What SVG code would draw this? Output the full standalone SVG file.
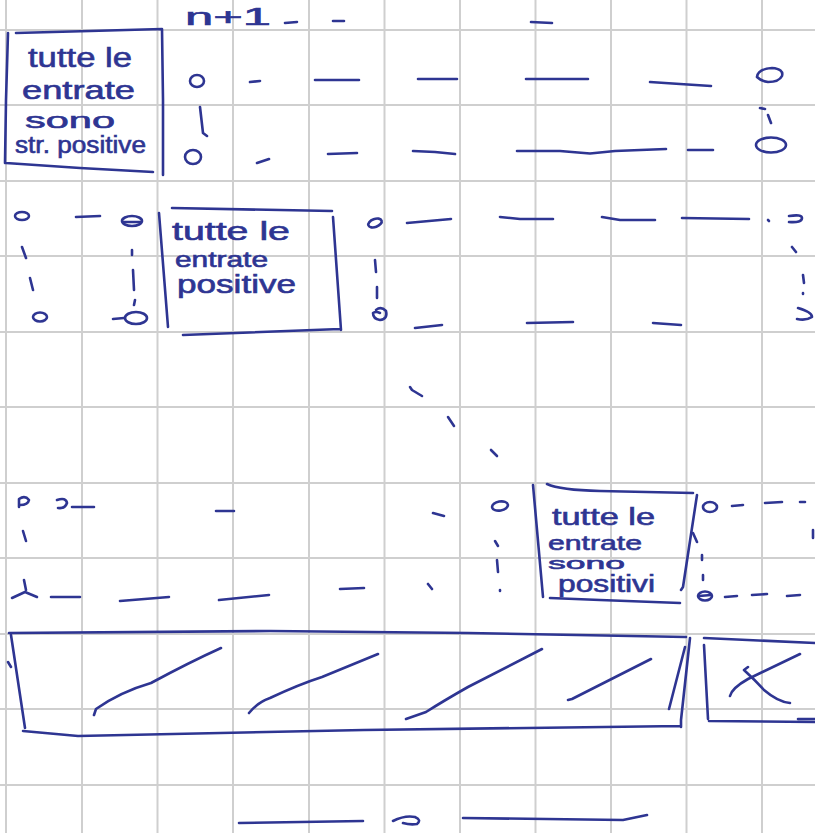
<svg xmlns="http://www.w3.org/2000/svg" width="815" height="833" viewBox="0 0 815 833">
<defs>
<style>
.grid line{stroke:#cfcfcf;stroke-width:2}
.ink{fill:none;stroke:#2e3592;stroke-width:2.6;stroke-linecap:round;stroke-linejoin:round}
.txt{font-family:"Liberation Sans","DejaVu Sans",sans-serif;fill:#2e3592;font-weight:normal;stroke:#2e3592;stroke-width:0.6}
</style>
</defs>
<rect width="815" height="833" fill="#ffffff"/>
<g class="grid" id="grid">
<line x1="6" y1="0" x2="6" y2="833"/><line x1="82" y1="0" x2="82" y2="833"/><line x1="157.5" y1="0" x2="157.5" y2="833"/><line x1="233" y1="0" x2="233" y2="833"/><line x1="309" y1="0" x2="309" y2="833"/><line x1="384.5" y1="0" x2="384.5" y2="833"/><line x1="460" y1="0" x2="460" y2="833"/><line x1="535.5" y1="0" x2="535.5" y2="833"/><line x1="611" y1="0" x2="611" y2="833"/><line x1="686.5" y1="0" x2="686.5" y2="833"/><line x1="762" y1="0" x2="762" y2="833"/>
<line x1="0" y1="30" x2="815" y2="30"/><line x1="0" y1="105" x2="815" y2="105"/><line x1="0" y1="181" x2="815" y2="181"/><line x1="0" y1="256" x2="815" y2="256"/><line x1="0" y1="332" x2="815" y2="332"/><line x1="0" y1="407" x2="815" y2="407"/><line x1="0" y1="483" x2="815" y2="483"/><line x1="0" y1="558" x2="815" y2="558"/><line x1="0" y1="634" x2="815" y2="634"/><line x1="0" y1="709" x2="815" y2="709"/><line x1="0" y1="785" x2="815" y2="785"/>
</g>

<g id="label-n1">
<text class="txt" x="185" y="25" font-size="24" textLength="86" lengthAdjust="spacingAndGlyphs">n+1</text>
</g>

<g id="box1">
<path class="ink" d="M16,33 L90,31 L162,29 M162,29 L163,100 L163,175 M8,33 L6,100 L5,163 M6,163 L80,168 L153,172"/>
<text class="txt" x="28" y="67" font-size="27" textLength="104" lengthAdjust="spacingAndGlyphs">tutte le</text>
<text class="txt" x="22" y="99" font-size="25" textLength="113" lengthAdjust="spacingAndGlyphs">entrate</text>
<text class="txt" x="25" y="128" font-size="22" textLength="90" lengthAdjust="spacingAndGlyphs">sono</text>
<text class="txt" x="15" y="153" font-size="23" textLength="131" lengthAdjust="spacingAndGlyphs">str. positive</text>
</g>

<g id="box2">
<path class="ink" d="M159,213 L168,327 M172,208 L332,211 M333,217 L341,330 M183,335 L340,329"/>
<text class="txt" x="172" y="240" font-size="25" textLength="118" lengthAdjust="spacingAndGlyphs">tutte le</text>
<text class="txt" x="175" y="267" font-size="22" textLength="93" lengthAdjust="spacingAndGlyphs">entrate</text>
<text class="txt" x="177" y="293" font-size="25" textLength="119" lengthAdjust="spacingAndGlyphs">positive</text>
</g>

<g id="box3">
<path class="ink" d="M547,484 Q560,490 600,491 L693,493 M533,485 L543,597 M697,495 L683,587 L681,590 M550,598 L600,600 L680,603"/>
<text class="txt" x="552" y="525" font-size="23" textLength="103" lengthAdjust="spacingAndGlyphs">tutte le</text>
<text class="txt" x="548" y="550" font-size="21" textLength="94" lengthAdjust="spacingAndGlyphs">entrate</text>
<text class="txt" x="548" y="569" font-size="17" textLength="77" lengthAdjust="spacingAndGlyphs">sono</text>
<text class="txt" x="558" y="592" font-size="23" textLength="97" lengthAdjust="spacingAndGlyphs">positivi</text>
</g>

<g id="bar">
<path class="ink" d="M9,633 L270,631 L468,633 L686,637 M11,635 L25,728 M8,662 L11,667 M23,731 L78,736 L364,730 L681,726 M690,638 L681,720 L681,727 M685,647 L669,709"/>
<path class="ink" d="M94,715 L96,709 Q120,692 151,683 Q190,662 221,648 M249,713 Q258,702 270,698 Q300,684 322,677 L378,654 M406,719 L426,712 Q445,700 468,687 L542,649 M568,700 L572,699 L651,659"/>
</g>

<g id="xbox">
<path class="ink" d="M704,638 L815,643 M704,645 L708,719 M709,721 L815,722 M798,719 L815,719"/>
<path class="ink" d="M800,654 L748,679 Q732,688 730,696 M748,667 L744,670 Q755,680 764,690 Q778,702 790,703"/>
</g>

<g id="connectors">
<path class="ink" d="M285,23 L297,22 M333,21 L344,21 M531,22 L552,23"/>
<ellipse class="ink" cx="197" cy="81" rx="7" ry="6"/>
<path class="ink" d="M250,82 L260,81 M315,80 L359,80 M418,79 L457,79 M526,79 L588,79 M650,82 L680,84 L711,86"/>
<path class="ink" d="M757,77 Q758,69 772,68 Q784,69 782,76 Q779,82 768,82 Q761,81 757,77"/>
<path class="ink" d="M200,107 L203,133 L207,136 M760,108 L765,109 M768,115 L771,123"/>
<ellipse class="ink" cx="193" cy="157" rx="8" ry="7"/>
<path class="ink" d="M257,163 L269,159 M328,154 L357,153 M413,151 L435,152 L455,154 M517,151 L560,151 L590,153.5 L615,151 L666,149 M688,150 L713,150"/>
<ellipse class="ink" cx="771" cy="145" rx="15" ry="7.5"/>
<ellipse class="ink" cx="22" cy="216" rx="7" ry="4"/>
<path class="ink" d="M76,217 L100,216"/>
<ellipse class="ink" cx="132" cy="221" rx="10" ry="5"/>
<path class="ink" d="M124,222 L140,222"/>
<path class="ink" d="M22,247 L26,258 M30,278 L33,290 M132,250 L132,255 M133,270 L134,290 M135,300 L134,305"/>
<ellipse class="ink" cx="40" cy="317" rx="7" ry="4.5"/>
<path class="ink" d="M113,319 L124,318"/>
<ellipse class="ink" cx="136" cy="318" rx="11" ry="6"/>
<ellipse class="ink" cx="375" cy="223" rx="7" ry="4" transform="rotate(-20 375 223)"/>
<path class="ink" d="M407,223 L451,219 M500,217 L520,219 L553,219 M602,217 L620,220 L655,220 M682,218 L749,219"/>
<path class="ink" d="M768,220 L769,221 M789,216 Q802,214 802,218 Q802,223 789,222"/>
<path class="ink" d="M792,247 L796,252 M803,275 L804,283 M803,293 L803,294"/>
<path class="ink" d="M375,260 L376,272 M377,287 L377,298"/>
<path class="ink" d="M376,310 Q381,306 386,311 Q388,319 380,320 Q373,319 373,313 Q376,311 380,313"/>
<path class="ink" d="M798,308 Q812,312 812,317 Q806,321 797,319"/>
<path class="ink" d="M415,328 L442,325 M527,323 L573,322 M653,323 L681,325"/>
<path class="ink" d="M410,387 L412,390 L422,396 M448,417 L454,426 M491,450 L497,456"/>
<path class="ink" d="M19,507 L19,499 Q25,495 29,500 Q28,505 20,505"/>
<path class="ink" d="M57,500 Q66,497 67,503 Q65,509 58,508"/>
<path class="ink" d="M72,507 L94,507 M216,511 L234,511 M433,513 L444,516"/>
<ellipse class="ink" cx="500" cy="506" rx="8" ry="4.5" transform="rotate(-10 500 506)"/>
<path class="ink" d="M23,531 L26,541"/>
<path class="ink" d="M24,580 L26,590 M12,598 L25,592 L37,597"/>
<path class="ink" d="M51,597 L80,597 M120,601 L169,597 M219,600 L269,595 M340,589 L364,588 M428,584 L432,589"/>
<path class="ink" d="M495,541 L498,546 M497,560 L498,572 M500,590 L500,591"/>
<ellipse class="ink" cx="710" cy="507" rx="7" ry="5"/>
<path class="ink" d="M732,506 L743,505 M765,503 L782,502 M800,502 L805,502"/>
<path class="ink" d="M693,533 L697,542 M702,555 L702,560 M703,575 L703,580 M813,530 L813,538"/>
<ellipse class="ink" cx="705" cy="596" rx="7" ry="4.5"/>
<path class="ink" d="M699,596 L711,595"/>
<path class="ink" d="M725,597 L737,596 M752,595 L767,594 M787,596 L800,595"/>
<path class="ink" d="M239,823 L363,821 M393,821 Q405,815 415,817 Q422,820 417,824 Q410,825 403,823 M463,818 L623,820 L647,815"/>
</g>
</svg>
